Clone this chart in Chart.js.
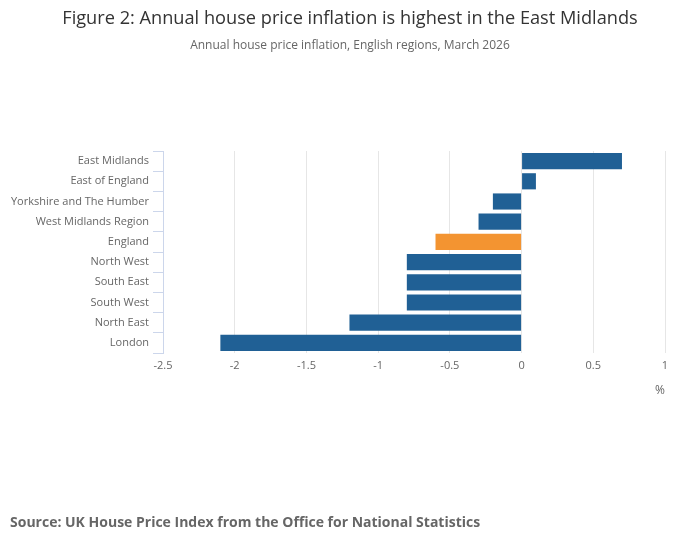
<!DOCTYPE html>
<html>
<head>
<meta charset="utf-8">
<script src="https://cdn.jsdelivr.net/npm/chart.js@4/dist/chart.umd.min.js"></script>
<style>
  html, body { margin: 0; padding: 0; background: #fff; }
  #wrap { position: relative; width: 700px; height: 549px; font-family: 'Open Sans', sans-serif; }
  #title { position: absolute; top: 5px; left: 0; width: 700px; text-align: center; font-size: 18.2px; color: #333; }
  #subtitle { position: absolute; top: 36px; left: 0; width: 700px; text-align: center; font-size: 12px; color: #666; }
  #source { position: absolute; top: 512px; left: 10px; font-size: 14px; font-weight: bold; color: #666; }
  canvas { position: absolute; top: 0; left: 0; }
</style>
</head>
<body>
<div id="wrap">
  <canvas id="chart" width="700" height="549"></canvas>
  <div id="title">Figure 2: Annual house price inflation is highest in the East Midlands</div>
  <div id="subtitle">Annual house price inflation, English regions, March 2026</div>
  <div id="source">Source: UK House Price Index from the Office for National Statistics</div>
</div>
<script>
// Data
const regions = ['East Midlands', 'East of England', 'Yorkshire and The Humber', 'West Midlands Region',
    'England', 'North West', 'South East', 'South West', 'North East', 'London'];
const inflation = [0.7, 0.1, -0.2, -0.3, -0.6, -0.8, -0.8, -0.8, -1.2, -2.1];

const blue = '#206095';
const orange = '#F39431';

const barColours = regions.map(r => r === 'England' ? orange : blue);

new Chart(document.getElementById('chart').getContext('2d'), {
    type: 'bar',
    data: {
        labels: regions,
        datasets: [{
            data: inflation,
            backgroundColor: barColours,
            borderWidth: 0,
            barPercentage: 0.8,
            categoryPercentage: 1
        }]
    },
    options: {
        indexAxis: 'y',
        responsive: false,
        animation: false,
        layout: { padding: { top: 151, right: 35, bottom: 147, left: 0 } },
        scales: {
            x: {
                min: -2.5,
                max: 1,
                afterFit: s => { s.height = 49; },
                ticks: {
                    stepSize: 0.5,
                    color: '#666',
                    padding: 6,
                    font: { family: 'Open Sans', size: 11 },
                    callback: v => String(Math.round(v * 10) / 10)
                },
                grid: {
                    color: ctx => ctx.tick && ctx.tick.value === -2.5 ? 'rgba(0,0,0,0)' : '#e6e6e6',
                    tickLength: 0
                },
                border: { display: false },
                title: {
                    display: true,
                    text: '%',
                    align: 'end',
                    color: '#666',
                    padding: { top: 2 },
                    font: { family: 'Open Sans', size: 12 }
                }
            },
            y: {
                afterFit: s => { s.width = 163; },
                ticks: {
                    color: '#666',
                    padding: 4,
                    font: { family: 'Open Sans', size: 11 }
                },
                grid: {
                    offset: true,
                    drawOnChartArea: false,
                    color: '#ccd6eb',
                    tickLength: 10
                },
                border: { display: true, color: '#ccd6eb' }
            }
        },
        plugins: {
            legend: { display: false },
            tooltip: { enabled: false }
        }
    }
});
</script>
</body>
</html>
